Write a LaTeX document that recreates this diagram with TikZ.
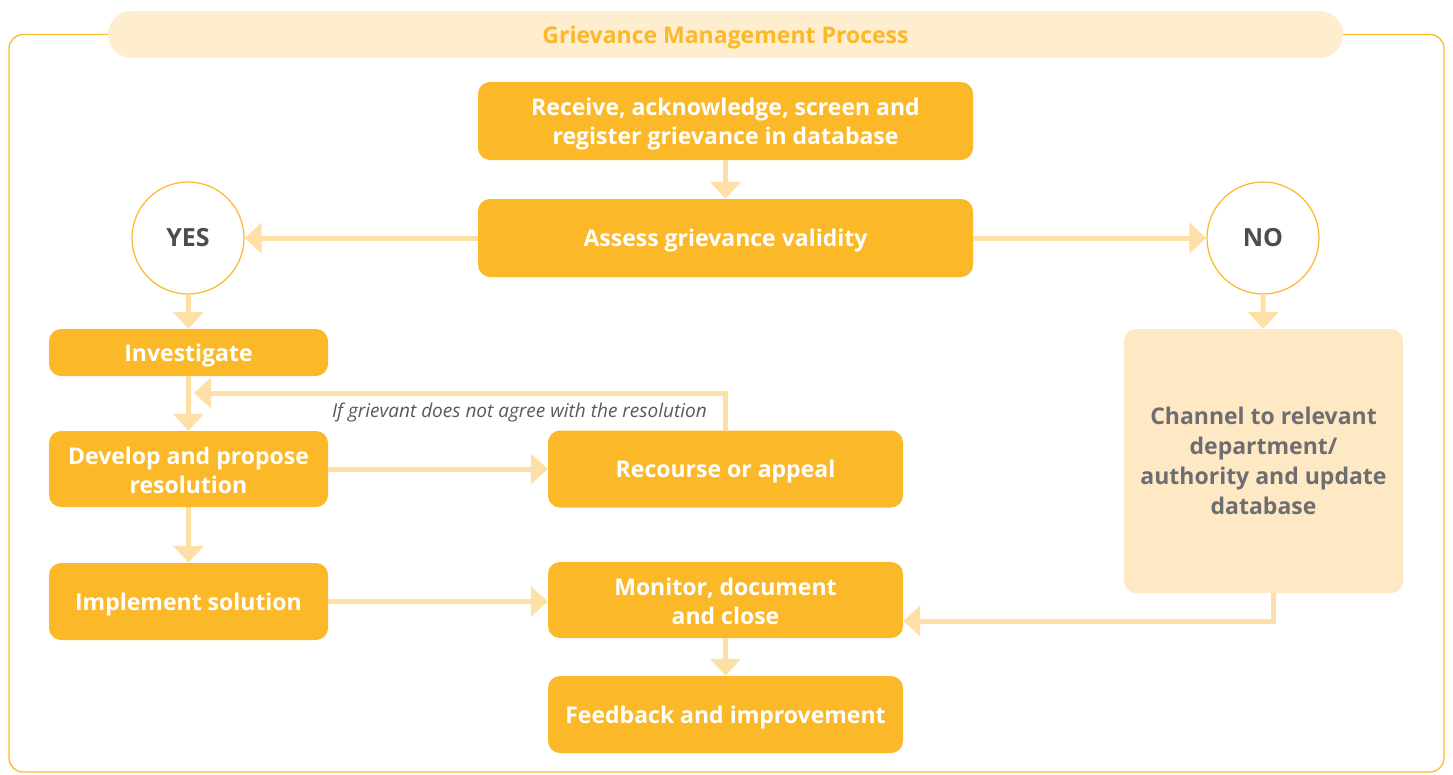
\documentclass[tikz,border=0pt]{standalone}
\usepackage{fontspec}
\setmainfont{Open Sans}
\usetikzlibrary{arrows.meta}

\definecolor{boxorange}{HTML}{FBB829}
\definecolor{arrowpale}{HTML}{FEDFA6}
\definecolor{titlepale}{HTML}{FEEDCF}
\definecolor{channelpale}{HTML}{FEE9C4}
\definecolor{yesnogray}{HTML}{4D4D4F}
\definecolor{channelgray}{HTML}{6D6E71}
\definecolor{notegray}{HTML}{58595B}

\tikzset{
  stepbox/.style={fill=boxorange, rounded corners=12pt, text=white, inner sep=0pt,
    align=center, font=\fontsize{23}{29}\selectfont\bfseries,
    execute at begin node={\rule{0pt}{23.5pt}}},
  twoline/.style={execute at begin node={\rule{0pt}{#1}}},
  choice/.style={circle, draw=boxorange, line width=1.2pt, fill=white, inner sep=0pt,
    minimum size=112pt, text=yesnogray, font=\fontsize{25}{29}\selectfont\bfseries},
  link/.style={draw=arrowpale, line width=5pt, -{Triangle[width=30pt,length=17pt]}},
  note/.style={text=notegray, inner sep=0pt, font=\fontsize{19}{22}\selectfont\itshape},
}

\begin{document}
\begin{tikzpicture}[x=1pt,y=-1pt]
\useasboundingbox (0,0) rectangle (1453,774);

% title bar and frame
\node[fill=titlepale, rounded corners=23.5pt, minimum width=1235pt, minimum height=47pt, inner sep=0pt,
  text=boxorange, font=\fontsize{23}{27}\selectfont\bfseries] (title) at (725.5,34.5) {\rule{0pt}{23.5pt}Grievance Management Process};
\draw[boxorange, line width=1.3pt, rounded corners=14pt] (title.west) -| (9,772) -| (1444,34.5) -- (title.east);

% main column
\node[stepbox, twoline=53pt, minimum width=495pt, minimum height=78pt] (receive) at (725.5,121) {Receive, acknowledge, screen and\\register grievance in database};
\node[stepbox, minimum width=495pt, minimum height=78pt] (assess) at (725.5,238) {Assess grievance validity};
\node[choice] (yes) at (188,238) {YES};
\node[choice] (no) at (1263,238) {NO};

% yes branch
\node[stepbox, minimum width=279pt, minimum height=47pt] (investigate) at (188.5,352.5) {Investigate};
\node[stepbox, twoline=49pt, minimum width=279pt, minimum height=76pt] (develop) at (188.5,469) {Develop and propose\\resolution};
\node[stepbox, minimum width=279pt, minimum height=77pt] (implement) at (188.5,601.5) {Implement solution};
\node[stepbox, minimum width=355pt, minimum height=77pt] (recourse) at (725.5,469) {Recourse or appeal};
\node[stepbox, twoline=49pt, minimum width=355pt, minimum height=76pt] (monitor) at (725.5,600) {Monitor, document\\and close};
\node[stepbox, minimum width=355pt, minimum height=77pt] (feedback) at (725.5,714.5) {Feedback and improvement};

% no branch
\node[stepbox, fill=channelpale, text=channelgray, font=\fontsize{23}{30}\selectfont\bfseries,
  execute at begin node={}, minimum width=279pt, minimum height=264pt] (channel) at (1263.5,461) {Channel to relevant\\department/\\authority and update\\database};

\node[note, anchor=base east] (backnote) at (707,417) {If grievant does not agree with the resolution};
\coordinate (backtip) at (194,393);

% connectors
\draw[link] (receive) -- (assess);
\draw[link] (assess) -- (yes);
\draw[link] (assess) -- (no);
\draw[link] (yes) -- (investigate);
\draw[link] (investigate) -- (develop);
\draw[link] (develop) -- (implement);
\draw[link] (develop) -- (recourse);
\draw[link] (recourse.north) |- (backtip);
\draw[link] (implement) -- (implement -| monitor.west);
\draw[link] (no) -- (channel);
\draw[link] ([xshift=9.5pt]channel.south) |- ([yshift=-21pt]monitor.east);
\draw[link] (monitor) -- (feedback);
\end{tikzpicture}
\end{document}
